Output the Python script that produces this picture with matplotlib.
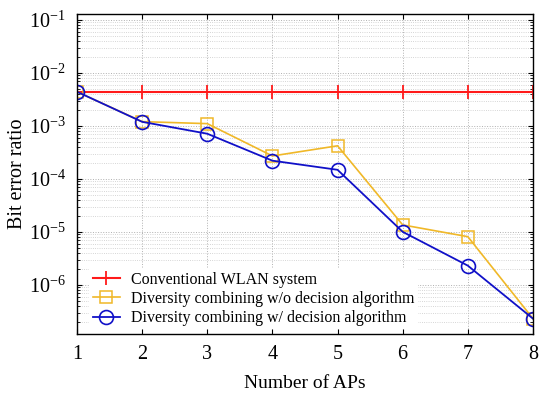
import numpy as np
import matplotlib.pyplot as plt

plt.rcParams['font.family'] = ['Liberation Serif', 'DejaVu Serif']
plt.rcParams['mathtext.fontset'] = 'stix'

aps = [1, 2, 3, 4, 5, 6, 7, 8]
ber_conv = [4.4e-3] * 8
ber_wo = [4.4e-3, 1.2e-3, 1.1e-3, 2.7e-4, 4.2e-4, 1.35e-5, 8.1e-6, 2.3e-7]
ber_w = [4.4e-3, 1.19e-3, 7.1e-4, 2.2e-4, 1.48e-4, 1.0e-5, 2.3e-6, 2.3e-7]

labels = ["Conventional WLAN system",
          "Diversity combining w/o decision algorithm",
          "Diversity combining w/ decision algorithm"]

fig = plt.figure(figsize=(5.5, 3.95), dpi=100)
ax = fig.add_axes([0.14, 0.154, 0.829, 0.811])

ax.semilogy(aps, ber_conv, color='#ff1a1a', lw=1.5, marker='+', ms=10, mew=1.3, label=labels[0])
ax.semilogy(aps, ber_wo, color='#f0b828', lw=1.2, marker='s', ms=8.5, mfc='none', mew=1.1, label=labels[1])
ax.semilogy(aps, ber_w, color='#1010c8', lw=1.3, marker='o', ms=10, mfc='none', mew=1.2, label=labels[2])

ax.set_xlim(1, 8)
ax.set_ylim(1.17e-7, 1.3e-1)
ax.set_xticks(aps)
ax.set_yticks([1e-6, 1e-5, 1e-4, 1e-3, 1e-2, 1e-1])
ax.grid(True, which='major', ls=':', color='#b0b0b0', lw=0.7)
ax.grid(True, which='minor', axis='y', ls=':', color='#c8c8c8', lw=0.6)
ax.tick_params(which='both', direction='in', top=True, right=True, labelsize=14.5)
ax.tick_params(axis='x', pad=8)
ax.tick_params(axis='y', pad=8)
for s in ax.spines.values():
    s.set_linewidth(1.0)

ax.set_xlabel("Number of APs", fontsize=14, labelpad=8)
ax.set_ylabel("Bit error ratio", fontsize=14.5, labelpad=1)

leg = ax.legend(loc='lower left', fontsize=11.5, frameon=True, framealpha=1,
                edgecolor='none', fancybox=False, borderpad=0.2, labelspacing=0.2,
                handlelength=1.7, handletextpad=0.7, borderaxespad=0.2,
                bbox_to_anchor=(0.02, 0.005))

fig.savefig("out.png", dpi=100)
